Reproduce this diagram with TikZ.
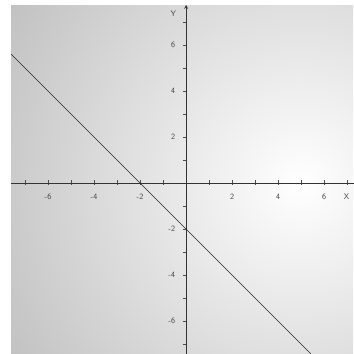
\documentclass[tikz,border=0pt]{standalone}
\begin{document}
\begin{tikzpicture}
        [x=1cm,y=1cm,>=stealth,every node/.style={font=\sffamily,text=black!75}]
        \useasboundingbox (-8.09,-7.43) rectangle (7.26,7.96);
        % backdrop
        \begin{scope}
            \clip (-7.61,-7.43) rectangle (7.26,7.7);
            \shade[inner color=white,outer color=black!26] (5,0) circle (16);
        \end{scope}

        \coordinate (xl) at (-7.61,0);
        \coordinate (xr) at (7.4,0);
        \coordinate (yb) at (0,-7.43);
        \coordinate (yt) at (0,7.75);
        \coordinate (ls) at (-7.61,5.61);
        \coordinate (le) at (5.43,-7.43);

        \foreach \i in {-7,...,7} {
            \ifnum\i=0\else
                \draw[black!70,line width=.6pt] (\i,-.08) -- (\i,.12);
                \draw[black!70,line width=.6pt] (-.15,\i) -- (0,\i);
            \fi
        }
        \foreach \i in {-6,-4,-2,2,4,6} {
            \node (x\i) at (\i,-.6) {\i};
            \node[anchor=east] (y\i) at (-.35,\i) {\i};
        }
        \node (ylab) at (-.55,7.38) {Y};
        \node (xlab) at (6.98,-.6) {X};

        \draw[black!80,line width=1.2pt] (xl) -- (xr);
        \draw[black!80,line width=1.2pt,->] (yb) -- (yt);
        \draw[black!85,line width=.7pt] (ls) -- (le);
    \end{tikzpicture}
\end{document}
